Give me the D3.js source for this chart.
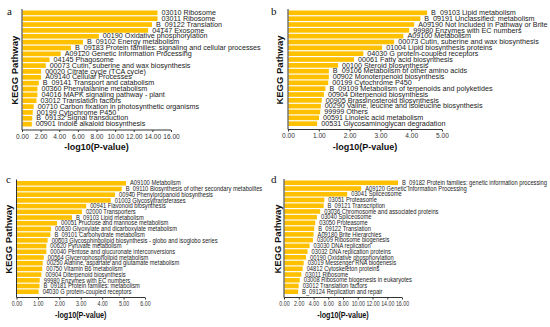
<!DOCTYPE html>
<html>
<head>
<meta charset="utf-8">
<script src="https://cdn.jsdelivr.net/npm/d3@7"></script>
<style>
  body { margin: 0; background: #fff; }
  svg { display: block; font-family: "Liberation Sans", Arial, sans-serif; }
</style>
</head>
<body>
<div id="chart"></div>
<script>
// panel a
const aLabels = [
  '03010 Ribosome', '03011 Ribosome', 'B_09122 Translation', '04147 Exosome',
  '00190 Oxidative phosphorylation', 'B_09102 Energy metabolism',
  'B_09183 Protein families: signaling and cellular processes',
  'A09120 Genetic Information Processing', '04145 Phagosome',
  '00073 Cutin, suberine and wax biosynthesis', '00020 Citrate cycle (TCA cycle)',
  'A09140 Cellular Processes', 'B_09141 Transport and catabolism',
  '00360 Phenylalanine metabolism', '04016 MAPK signaling pathway - plant',
  '03012 Translation factors', '00710 Carbon fixation in photosynthetic organisms',
  '00199 Cytochrome P450', 'B_09132 Signal transduction', '00901 Indole alkaloid biosynthesis'
];
const aValues = [14.5, 14.5, 13.9, 13.5, 8.2, 6.5, 5.2, 4.1, 2.9, 2.5,
  2.0, 2.0, 1.75, 1.6, 1.6, 1.5, 1.2, 1.1, 1.05, 1.0];
const aTicks = [0, 2, 4, 6, 8, 10, 12, 14, 16];

// panel b
const bLabels = [
  'B_09103 Lipid metabolism', 'B_09191 Unclassified: metabolism',
  'A09190 Not Included in Pathway or Brite', '99980 Enzymes with EC numbers',
  'A09100 Metabolism', '00073 Cutin, suberine and wax biosynthesis',
  '01004 Lipid biosynthesis proteins', '04030 G protein-coupled receptors',
  '00061 Fatty acid biosynthesis', '00100 Steroid biosynthesis',
  'B_09106 Metabolism of other amino acids', '00902 Monoterpenoid biosynthesis',
  '00199 Cytochrome P450', 'B_09109 Metabolism of terpenoids and polyketides',
  '00904 Diterpenoid biosynthesis', '00905 Brassinosteroid biosynthesis',
  '00290 Valine, leucine and isoleucine biosynthesis', '99999 Others',
  '00591 Linoleic acid metabolism', '00531 Glycosaminoglycan degradation'
];
const bValues = [4.5, 4.28, 4.08, 3.92, 3.73, 3.43, 3.04, 2.43, 2.13, 1.61,
  1.31, 1.31, 1.29, 1.2, 1.15, 1.08, 1.05, 1.03, 0.99, 0.93];
const bTicks = [0, 1, 2, 3, 4, 5];

// panel c
const cLabels = [
  'A09100 Metabolism', 'B_09110 Biosynthesis of other secondary metabolites',
  '00940 Phenylpropanoid biosynthesis', '01003 Glycosyltransferases',
  '00941 Flavonoid biosynthesis', '02000 Transporters', 'B_09103 Lipid metabolism',
  '00051 Fructose and mannose metabolism', '00630 Glyoxylate and dicarboxylate metabolism',
  'B_09101 Carbohydrate metabolism',
  '00603 Glycosphingolipid biosynthesis - globo and isoglobo series',
  '00620 Pyruvate metabolism', '00040 Pentose and glucuronate interconversions',
  '00564 Glycerophospholipid metabolism', '00250 Alanine, aspartate and glutamate metabolism',
  '00750 Vitamin B6 metabolism', '00904 Diterpenoid biosynthesis',
  '99980 Enzymes with EC numbers', 'B_09181 Protein families: metabolism',
  '04030 G protein-coupled receptors'
];
const cValues = [5.09, 4.89, 4.58, 4.38, 3.23, 3.03, 2.57, 1.87, 1.59, 1.56,
  1.43, 1.37, 1.37, 1.25, 1.2, 1.18, 1.14, 1.06, 1.05, 1.01];
const cTicks = [0, 1, 2, 3, 4, 5, 6];

// panel d
const dLabels = [
  'B_09182 Protein families: genetic information processing',
  'A09120 Genetic Information Processing', '03041 Spliceosome', '03051 Proteasome',
  'B_09121 Transcription', '03036 Chromosome and associated proteins',
  '03040 Spliceosome', '03050 Proteasome', 'B_09122 Translation',
  'A09180 Brite Hierarchies', '03009 Ribosome biogenesis', '03030 DNA replication',
  '03032 DNA replication proteins', '00190 Oxidative phosphorylation',
  '03019 Messenger RNA biogenesis', '04812 Cytoskeleton proteins', '03011 Ribosome',
  '03008 Ribosome biogenesis in eukaryotes', '03012 Translation factors',
  'B_09124 Replication and repair'
];
const dValues = [15.4, 10.4, 8.5, 5.4, 5.3, 4.84, 4.4, 4.17, 4.03, 3.94,
  3.85, 3.4, 3.13, 2.92, 2.6, 2.46, 2.28, 2.06, 1.92, 1.84];
const dTicks = [0, 2, 4, 6, 8, 10, 12, 14, 16];

const width = 550;
const height = 327;
const barColor = '#FFC000';

const panels = [
  { letter: 'a', labels: aLabels, values: aValues, ticks: aTicks,
    x0: 22, x1: 171, top: 10.5, bottom: 126.5, axisY: 130, letterX: 7, letterY: 15,
    titleX: 15, sx: 1 },
  { letter: 'b', labels: bLabels, values: bValues, ticks: bTicks,
    x0: 288, x1: 442, top: 10.5, bottom: 126, axisY: 129.5, letterX: 271, letterY: 15,
    titleX: 280, sx: 1 },
  { letter: 'c', labels: cLabels, values: cValues, ticks: cTicks,
    x0: 16.5, x1: 145, top: 181, bottom: 294, axisY: 297.5, letterX: 6, letterY: 183,
    titleX: 9, sx: 0.8 },
  { letter: 'd', labels: dLabels, values: dValues, ticks: dTicks,
    x0: 284, x1: 402, top: 180.5, bottom: 294, axisY: 297.5, letterX: 271, letterY: 183,
    titleX: 278, sx: 0.8 }
];

const svg = d3.select('#chart').append('svg')
  .attr('width', width)
  .attr('height', height);

svg.append('rect').attr('width', width).attr('height', height).attr('fill', '#fff');

panels.forEach(p => {
  const g = svg.append('g').attr('class', `panel panel-${p.letter}`);
  const max = p.ticks[p.ticks.length - 1];

  const scaleX = d3.scaleLinear().domain([0, max]).range([p.x0, p.x1]);
  const scaleY = d3.scaleBand().domain(p.labels).range([p.top, p.bottom]).paddingInner(0.2);

  // bars
  g.selectAll('.bar')
    .data(p.labels.map((l, i) => ({ label: l, value: p.values[i] })))
    .enter()
    .append('rect')
    .attr('class', 'bar')
    .attr('x', scaleX(0) + 0.5)
    .attr('y', d => scaleY(d.label))
    .attr('width', d => scaleX(d.value) - scaleX(0))
    .attr('height', scaleY.bandwidth())
    .attr('fill', barColor);

  // bar labels
  g.selectAll('.bar-label')
    .data(p.labels.map((l, i) => ({ label: l, value: p.values[i] })))
    .enter()
    .append('text')
    .attr('class', 'bar-label')
    .attr('transform', d => `translate(${scaleX(d.value) + 4.5},${scaleY(d.label) + scaleY.bandwidth() / 2 + 2.2}) scale(${p.sx},1)`)
    .attr('font-size', 7.2)
    .attr('fill', '#222')
    .text(d => d.label);

  // y axis line
  g.append('line')
    .attr('x1', p.x0).attr('x2', p.x0)
    .attr('y1', p.top - 1.5).attr('y2', p.axisY)
    .attr('stroke', '#333').attr('stroke-width', 1);

  // x axis
  const xAxis = g.append('g')
    .attr('transform', `translate(0,${p.axisY})`)
    .call(d3.axisBottom(scaleX).tickValues(p.ticks).tickSize(2).tickFormat(d3.format('.2f')));
  xAxis.select('.domain').attr('stroke', '#333').attr('d', `M${p.x0},0H${p.x1}`);
  xAxis.selectAll('.tick line').attr('stroke', '#333');
  xAxis.selectAll('.tick text')
    .attr('font-family', '"Liberation Sans", Arial, sans-serif')
    .attr('font-size', 6.6)
    .attr('fill', '#333')
    .attr('y', 4)
    .attr('dy', '0.71em')
    .attr('transform', `scale(${p.sx},1)`);

  // x title
  g.append('text')
    .attr('transform', `translate(${(p.x0 + p.x1) / 2},${p.axisY + 20}) scale(${p.sx},1)`)
    .attr('text-anchor', 'middle')
    .attr('font-size', 9)
    .attr('font-weight', 'bold')
    .attr('fill', '#111')
    .text('-log10(P-value)');

  // y title
  g.append('text')
    .attr('transform', `translate(${p.titleX + 3.3},${(p.top + p.axisY) / 2}) rotate(-90)`)
    .attr('text-anchor', 'middle')
    .attr('font-size', 9.5)
    .attr('font-weight', 'bold')
    .attr('fill', '#111')
    .text('KEGG Pathway');

  // panel letter
  g.append('text')
    .attr('x', p.letterX)
    .attr('y', p.letterY)
    .attr('font-family', '"Liberation Serif", "Times New Roman", serif')
    .attr('font-size', 11)
    .attr('fill', '#111')
    .text(p.letter);
});
</script>
</body>
</html>
